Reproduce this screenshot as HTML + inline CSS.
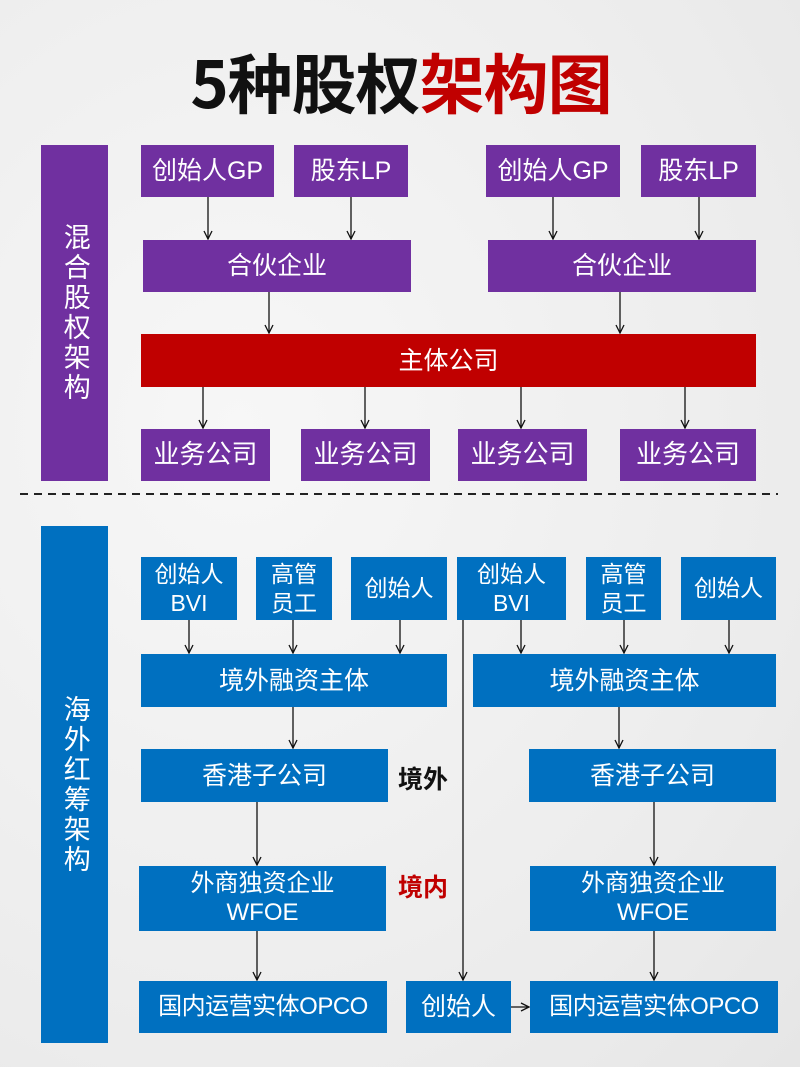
<!DOCTYPE html>
<html><head><meta charset="utf-8"><style>
body{margin:0}
#p{position:relative;width:800px;height:1067px;overflow:hidden;background:radial-gradient(ellipse at 30% 40%,#f7f7f7,#ececec 70%,#e6e6e6);font-family:"Liberation Sans","Noto Sans CJK SC",sans-serif}
.b{position:absolute;display:flex;align-items:center;justify-content:center;text-align:center;color:#fff;box-sizing:border-box;line-height:1.2;white-space:nowrap}
.pu{background:#7030a0;font-size:25px}
.bl{background:#0070c0;font-size:23px}
.side{writing-mode:vertical-rl;font-size:27px;letter-spacing:3px}
svg{position:absolute;left:0;top:0}
</style></head><body><div id="p">
<div style="position:absolute;left:186px;top:40px;width:430px;text-align:center;font-size:65px;font-weight:bold;line-height:80px;font-family:'Noto Sans CJK SC',sans-serif;letter-spacing:-1px"><span style="color:#111">5种股权</span><span style="color:#c00000">架构图</span></div>

<div class="b pu side" style="left:41px;top:145px;width:67px;height:336px">混合股权架构</div>
<div class="b pu" style="left:141px;top:145px;width:133px;height:52px">创始人GP</div>
<div class="b pu" style="left:294px;top:145px;width:114px;height:52px">股东LP</div>
<div class="b pu" style="left:486px;top:145px;width:134px;height:52px">创始人GP</div>
<div class="b pu" style="left:641px;top:145px;width:115px;height:52px">股东LP</div>
<div class="b pu" style="left:143px;top:240px;width:268px;height:52px">合伙企业</div>
<div class="b pu" style="left:488px;top:240px;width:268px;height:52px">合伙企业</div>
<div class="b pu" style="left:141px;top:334px;width:615px;height:53px;background:#c00000">主体公司</div>
<div class="b pu" style="left:141px;top:429px;width:129px;height:52px;font-size:26px">业务公司</div>
<div class="b pu" style="left:301px;top:429px;width:129px;height:52px;font-size:26px">业务公司</div>
<div class="b pu" style="left:458px;top:429px;width:129px;height:52px;font-size:26px">业务公司</div>
<div class="b pu" style="left:620px;top:429px;width:136px;height:52px;font-size:26px">业务公司</div>

<div class="b bl side" style="left:41px;top:526px;width:67px;height:517px">海外红筹架构</div>
<div class="b bl" style="left:141px;top:557px;width:96px;height:63px;line-height:1.25">创始人<br>BVI</div>
<div class="b bl" style="left:256px;top:557px;width:76px;height:63px;line-height:1.25">高管<br>员工</div>
<div class="b bl" style="left:351px;top:557px;width:96px;height:63px">创始人</div>
<div class="b bl" style="left:457px;top:557px;width:109px;height:63px;line-height:1.25">创始人<br>BVI</div>
<div class="b bl" style="left:586px;top:557px;width:75px;height:63px;line-height:1.25">高管<br>员工</div>
<div class="b bl" style="left:681px;top:557px;width:95px;height:63px">创始人</div>
<div class="b bl" style="left:141px;top:654px;width:306px;height:53px;font-size:25px">境外融资主体</div>
<div class="b bl" style="left:473px;top:654px;width:303px;height:53px;font-size:25px">境外融资主体</div>
<div class="b bl" style="left:141px;top:749px;width:247px;height:53px;font-size:25px">香港子公司</div>
<div class="b bl" style="left:529px;top:749px;width:247px;height:53px;font-size:25px">香港子公司</div>
<div class="b bl" style="left:139px;top:866px;width:247px;height:65px;font-size:24px">外商独资企业<br>WFOE</div>
<div class="b bl" style="left:530px;top:866px;width:246px;height:65px;font-size:24px">外商独资企业<br>WFOE</div>
<div class="b bl" style="left:139px;top:981px;width:248px;height:52px;font-size:24px;letter-spacing:-0.5px">国内运营实体OPCO</div>
<div class="b bl" style="left:406px;top:981px;width:105px;height:52px;font-size:25px">创始人</div>
<div class="b bl" style="left:530px;top:981px;width:248px;height:52px;font-size:24px;letter-spacing:-0.5px">国内运营实体OPCO</div>
<div style="position:absolute;left:398px;top:764px;font-size:25px;font-weight:bold;color:#111;line-height:32px">境外</div>
<div style="position:absolute;left:398px;top:872px;font-size:25px;font-weight:bold;color:#c00000;line-height:32px">境内</div>

<svg width="800" height="1067">
<defs><marker id="a" markerWidth="10" markerHeight="10" refX="9" refY="5" orient="auto" markerUnits="userSpaceOnUse"><path d="M1,1 L9,5 L1,9" fill="none" stroke="#111" stroke-width="1.3"/></marker></defs>
<g stroke="#111" stroke-width="1.3" marker-end="url(#a)">
<line x1="208" y1="197" x2="208" y2="239"/><line x1="351" y1="197" x2="351" y2="239"/>
<line x1="553" y1="197" x2="553" y2="239"/><line x1="699" y1="197" x2="699" y2="239"/>
<line x1="269" y1="292" x2="269" y2="333"/><line x1="620" y1="292" x2="620" y2="333"/>
<line x1="203" y1="387" x2="203" y2="428"/><line x1="365" y1="387" x2="365" y2="428"/>
<line x1="521" y1="387" x2="521" y2="428"/><line x1="685" y1="387" x2="685" y2="428"/>
<line x1="189" y1="620" x2="189" y2="653"/><line x1="293" y1="620" x2="293" y2="653"/>
<line x1="400" y1="620" x2="400" y2="653"/><line x1="521" y1="620" x2="521" y2="653"/>
<line x1="624" y1="620" x2="624" y2="653"/><line x1="729" y1="620" x2="729" y2="653"/>
<line x1="293" y1="707" x2="293" y2="748"/><line x1="619" y1="707" x2="619" y2="748"/>
<line x1="257" y1="802" x2="257" y2="865"/><line x1="654" y1="802" x2="654" y2="865"/>
<line x1="257" y1="931" x2="257" y2="980"/><line x1="654" y1="931" x2="654" y2="980"/>
<line x1="463" y1="620" x2="463" y2="980"/>
<line x1="511" y1="1007" x2="529" y2="1007"/>
</g>
<line x1="20" y1="494" x2="778" y2="494" stroke="#222" stroke-width="2" stroke-dasharray="8,6"/>
</svg>
</div></body></html>
